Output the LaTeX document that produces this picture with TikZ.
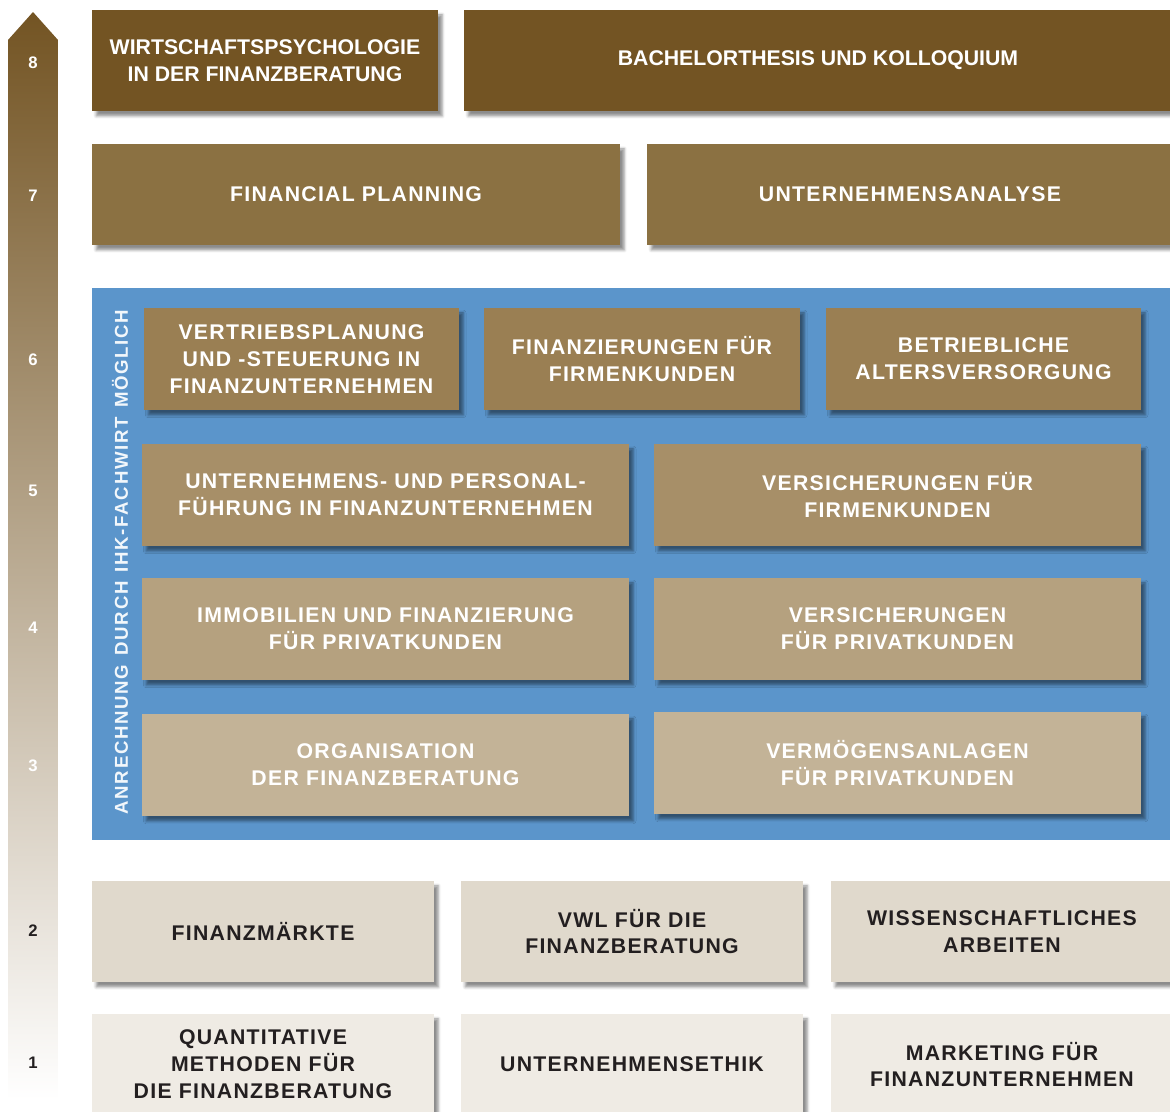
\documentclass[tikz,border=0pt]{standalone}
\usepackage{fontspec}
\setmainfont{Liberation Sans}
\newfontfamily\modfont[LetterSpace=6]{Liberation Sans}
\newfontfamily\seitfont[LetterSpace=9]{Liberation Sans}
\usetikzlibrary{shadows.blur}

\definecolor{stufeacht}{HTML}{735423}
\definecolor{stufesieben}{HTML}{8B7142}
\definecolor{stufesechs}{HTML}{9A7F53}
\definecolor{stufefuenf}{HTML}{A78F68}
\definecolor{stufevier}{HTML}{B5A17F}
\definecolor{stufedrei}{HTML}{C3B397}
\definecolor{stufezwei}{HTML}{E0D9CC}
\definecolor{stufeeins}{HTML}{EFEBE4}
\definecolor{ihkblau}{HTML}{5B95CB}
\definecolor{schrift}{HTML}{231F20}

\begin{document}
\begin{tikzpicture}[x=0.02cm,y=-0.02cm,
  modul/.style={inner sep=0pt,align=center,text=white,
    font=\modfont\bfseries\fontsize{12.1}{15.3}\selectfont,
    blur shadow={shadow xshift=2.4pt,shadow yshift=-2.8pt,shadow blur radius=1.6pt,shadow opacity=45}},
  modsize/.style 2 args={minimum width=#1*0.02cm,minimum height=#2*0.02cm},
  dunkel/.style={text=schrift}]
\path[use as bounding box,clip] (0,0) rectangle (1170,1112);

% Stufenpfeil links
\shade[top color=stufeacht,bottom color=white] (8,1100) -- (8,40) -- (33,12) -- (58,40) -- (58,1100) -- cycle;
\foreach \n/\y/\col in {8/63/white,7/196/white,6/360/white,5/491/white,4/628/white,3/766/white,2/931/schrift,1/1063/schrift}
  \node[font=\bfseries\fontsize{9.5}{11}\selectfont,text=\col] (stufe\n) at (33,\y) {\n};

% Semester 8 und 7
\node[modul,modsize={346}{101},fill=stufeacht,font=\bfseries\fontsize{12.1}{15.3}\selectfont] (psych) at (265,60.5) {WIRTSCHAFTSPSYCHOLOGIE\\IN DER FINANZBERATUNG};
\node[modul,modsize={708}{101},fill=stufeacht,font=\bfseries\fontsize{12.1}{15.3}\selectfont] (thesis) at (818,60.5) {BACHELORTHESIS UND KOLLOQUIUM};
\node[modul,modsize={528}{101},fill=stufesieben] (planning) at (356,194.5) {FINANCIAL PLANNING};
\node[modul,modsize={526}{101},fill=stufesieben] (analyse) at (910,194.5) {UNTERNEHMENSANALYSE};

% Block mit IHK-Anrechnung
\fill[ihkblau] (92,288) rectangle (1172,840);
\node[rotate=90,text=white!92!ihkblau,font=\seitfont\bfseries\fontsize{10.6}{12}\selectfont] (anrechnung) at (120,562) {ANRECHNUNG\enspace DURCH\enspace IHK-FACHWIRT\enspace MÖGLICH};

\node[modul,modsize={315}{102},fill=stufesechs] (vertrieb) at (301.5,359) {VERTRIEBSPLANUNG\\UND -STEUERUNG IN\\FINANZUNTERNEHMEN};
\node[modul,modsize={316}{102},fill=stufesechs] (firmenfin) at (642,359) {FINANZIERUNGEN FÜR\\FIRMENKUNDEN};
\node[modul,modsize={315}{102},fill=stufesechs] (bav) at (983.5,359) {BETRIEBLICHE\\ALTERSVERSORGUNG};

\node[modul,modsize={487}{102},fill=stufefuenf] (fuehrung) at (385.5,495) {UNTERNEHMENS- UND PERSONAL-\\FÜHRUNG IN FINANZUNTERNEHMEN};
\node[modul,modsize={487}{102},fill=stufefuenf] (firmenvers) at (897.5,495) {VERSICHERUNGEN FÜR\\FIRMENKUNDEN};

\node[modul,modsize={487}{102},fill=stufevier] (immo) at (385.5,629) {IMMOBILIEN UND FINANZIERUNG\\FÜR PRIVATKUNDEN};
\node[modul,modsize={487}{102},fill=stufevier] (privvers) at (897.5,629) {VERSICHERUNGEN\\FÜR PRIVATKUNDEN};

\node[modul,modsize={487}{102},fill=stufedrei] (orga) at (385.5,765) {ORGANISATION\\DER FINANZBERATUNG};
\node[modul,modsize={487}{102},fill=stufedrei] (anlagen) at (897.5,763) {VERMÖGENSANLAGEN\\FÜR PRIVATKUNDEN};

% Grundlagen, Semester 2 und 1
\node[modul,dunkel,modsize={342}{101},fill=stufezwei] (maerkte) at (263,931.5) {FINANZMÄRKTE};
\node[modul,dunkel,modsize={342}{101},fill=stufezwei] (vwl) at (632,931.5) {VWL FÜR DIE\\FINANZBERATUNG};
\node[modul,dunkel,modsize={342}{101},fill=stufezwei] (wissarb) at (1002,931.5) {WISSENSCHAFTLICHES\\ARBEITEN};

\node[modul,dunkel,modsize={342}{101},fill=stufeeins] (quanti) at (263,1064.5) {QUANTITATIVE\\METHODEN FÜR\\DIE FINANZBERATUNG};
\node[modul,dunkel,modsize={342}{101},fill=stufeeins] (ethik) at (632,1064.5) {UNTERNEHMENSETHIK};
\node[modul,dunkel,modsize={342}{101},fill=stufeeins] (marketing) at (1002,1064.5) {MARKETING FÜR\\FINANZUNTERNEHMEN};
\end{tikzpicture}
\end{document}
